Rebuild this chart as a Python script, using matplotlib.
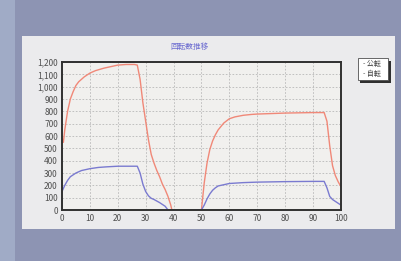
import matplotlib.pyplot as plt
from matplotlib.patches import Rectangle

plt.rcParams["font.family"] = ["Noto Sans CJK JP", "DejaVu Sans"]

# --- Data ---
TITLE = "回転数推移"
LEGEND = ["公転", "自転"]

x_rev = [0.5, 1, 2, 3, 4, 5, 6, 8, 10, 12, 15, 18, 20, 23, 26, 27, 28, 29, 30, 31,
         32, 33, 34, 35, 36, 37, 38, 39, 39.4, 40, 45, 50, 51, 52, 53, 54, 55, 56,
         58, 60, 62, 65, 68, 70, 75, 80, 85, 90, 94, 95, 96, 97, 98, 99, 100]
y_rev = [550, 650, 800, 900, 960, 1010, 1040, 1080, 1110, 1130, 1150, 1165, 1175,
         1180, 1180, 1175, 1060, 870, 720, 570, 450, 380, 320, 270, 210, 165, 110,
         40, 0, 0, 0, 0, 220, 380, 490, 560, 610, 650, 705, 740, 755, 768, 775, 778,
         782, 786, 788, 790, 790, 720, 520, 360, 280, 230, 190]

x_rot = [0, 1, 2, 3, 5, 7, 10, 13, 16, 20, 24, 27, 28, 29, 30, 31, 32, 33, 35,
         37, 38, 40, 45, 50, 51, 52, 53, 54, 55, 56, 58, 60, 65, 70, 75,
         80, 85, 90, 94, 95, 96, 97, 98, 99, 100]
y_rot = [150, 200, 240, 270, 300, 320, 335, 345, 350, 355, 355, 355, 300, 210,
         150, 115, 95, 85, 60, 30, 0, 0, 0, 0, 40, 90, 130, 160, 180, 195,
         205, 215, 222, 226, 228, 230, 231, 232, 232, 180, 110, 85, 70, 55, 40]

fig = plt.figure(figsize=(4.01, 2.61), dpi=100)
fig.patch.set_facecolor("#8d94b3")

# photo backdrop: lighter strip on the left and the pale panel behind the chart
fig.patches.append(Rectangle((0, 0), 0.038, 1, transform=fig.transFigure,
                             facecolor="#a0abc6", edgecolor="none", zorder=0))
fig.patches.append(Rectangle((0.055, 0.122), 0.93, 0.74, transform=fig.transFigure,
                             facecolor="#ebebed", edgecolor="none", zorder=0))

ax = fig.add_axes([0.1546, 0.1954, 0.6955, 0.567])
ax.set_zorder(1)
ax.set_facecolor("#f1f0ee")

ax.plot(x_rev, y_rev, color="#f08878", linewidth=1.0, label=LEGEND[0])
ax.plot(x_rot, y_rot, color="#7a7ad0", linewidth=1.0, label=LEGEND[1])

ax.set_xlim(0, 100)
ax.set_ylim(0, 1200)
ax.set_xticks(range(0, 101, 10))
ax.set_yticks(range(0, 1201, 100))
ax.set_yticklabels([f"{v:,}" for v in range(0, 1201, 100)])
ax.grid(True, color="#b8b8b8", linestyle=(0, (2, 2)), linewidth=0.6)
for sp in ax.spines.values():
    sp.set_color("#303030")
    sp.set_linewidth(1.4)
ax.tick_params(axis="both", labelsize=6, colors="#505050", length=0, pad=3)

fig.text(0.473, 0.82, TITLE, fontsize=5.5, color="#6a6ad0", ha="center", va="center")

# legend box with shadow
lx, ly, lw, lh = 0.892, 0.695, 0.075, 0.082
fig.patches.append(Rectangle((lx + 0.007, ly - 0.012), lw, lh, transform=fig.transFigure,
                             facecolor="#303030", edgecolor="none", zorder=2))
fig.patches.append(Rectangle((lx, ly), lw, lh, transform=fig.transFigure,
                             facecolor="#ffffff", edgecolor="#505050", linewidth=0.6, zorder=3))
fig.text(lx + 0.012, ly + lh * 0.72, "- " + LEGEND[0], fontsize=5, color="#404040",
         va="center", zorder=4)
fig.text(lx + 0.012, ly + lh * 0.28, "- " + LEGEND[1], fontsize=5, color="#404040",
         va="center", zorder=4)

fig.savefig("out.png", dpi=100, facecolor=fig.get_facecolor())
